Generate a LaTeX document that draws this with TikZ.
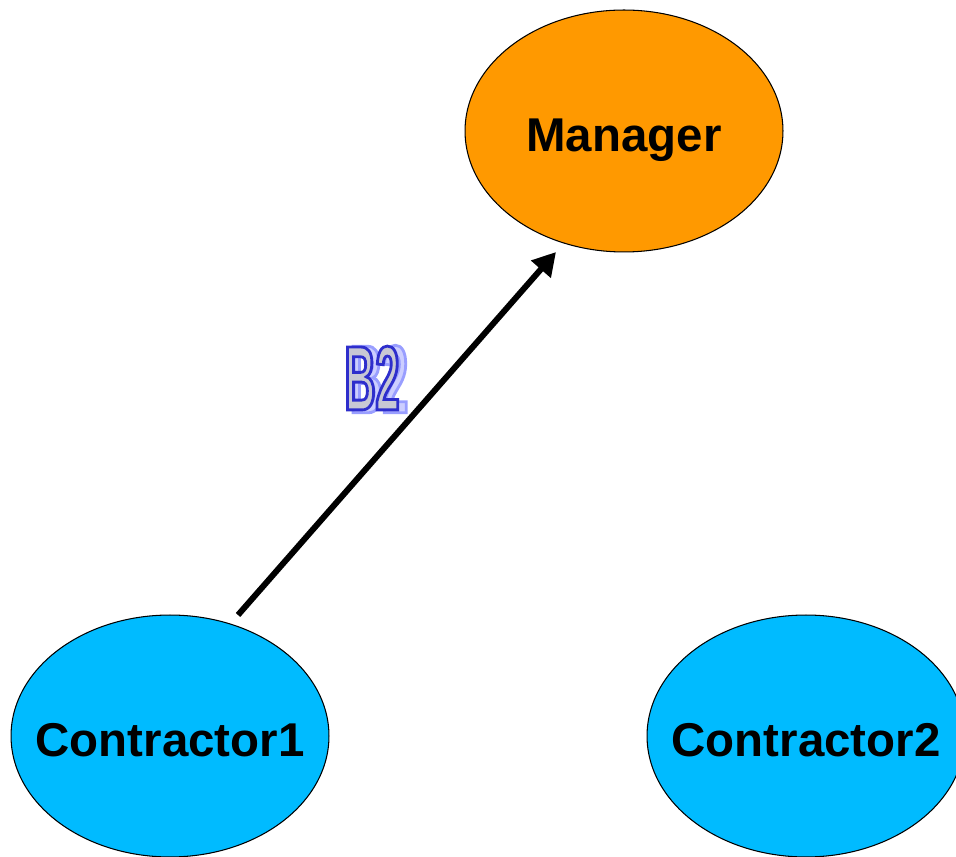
\documentclass[tikz,border=0pt]{standalone}
\usepackage{fontspec}
\setmainfont{Liberation Sans}
\newfontfamily\narrowbold[FakeStretch=0.47]{Liberation Sans Bold}
\usetikzlibrary{shapes.geometric,arrows.meta}
\definecolor{mgrorange}{RGB}{255,153,0}
\definecolor{ctrblue}{RGB}{0,187,255}
\definecolor{wordfill}{RGB}{200,200,212}
\definecolor{shadowfill}{RGB}{204,206,255}
% empty-size label, caps centred on the node, so the ellipse keeps its own size
\newcommand{\agentname}[1]{\smash{\makebox[0pt]{\raisebox{-11.7pt}{#1}}}}
% outlined text: fill colour, then stroke width and stroke colour (RGB 0..1)
\newcommand{\outlined}[4]{\textcolor{#1}{\special{pdf:code 2 Tr #2 w #3 RG}#4\special{pdf:code 0 Tr}}}
\begin{document}
\begin{tikzpicture}[x=0.02cm,y=-0.02cm,
  agent/.style={ellipse,draw=black,line width=0.6pt,inner sep=0pt,
    minimum width=6.36cm,minimum height=4.84cm,
    font=\fontsize{27}{32}\selectfont\bfseries},
  msg/.style={line width=3.4pt,-{Triangle[length=0.46cm,width=0.5cm]}},
  wordart/.style={inner sep=0pt,font=\fontsize{52}{60}\selectfont\narrowbold}]
  \useasboundingbox (0,0) rectangle (956,857);
  \clip (0,0) rectangle (956,857);
  % agents
  \node[agent,fill=mgrorange] (mgr) at (624,131) {\agentname{Manager}};
  \node[agent,fill=ctrblue] (c1) at (170,736) {\agentname{Contractor1}};
  \node[agent,fill=ctrblue] (c2) at (806,736) {\agentname{Contractor2}};
  % bid message
  \coordinate (s) at (238,615);
  \coordinate (t) at (556,252);
  \draw[msg] (s) -- (t);
  % message label with drop shadow
  \node[wordart,font=\fontsize{55}{60}\selectfont\narrowbold] (b2s) at (379,379)
    {\outlined{shadowfill}{1.6}{0.6 0.62 1}{B2}};
  \node[wordart] (b2) at (372,378)
    {\outlined{wordfill}{1.6}{0.18 0.18 0.8}{B2}};
\end{tikzpicture}
\end{document}
